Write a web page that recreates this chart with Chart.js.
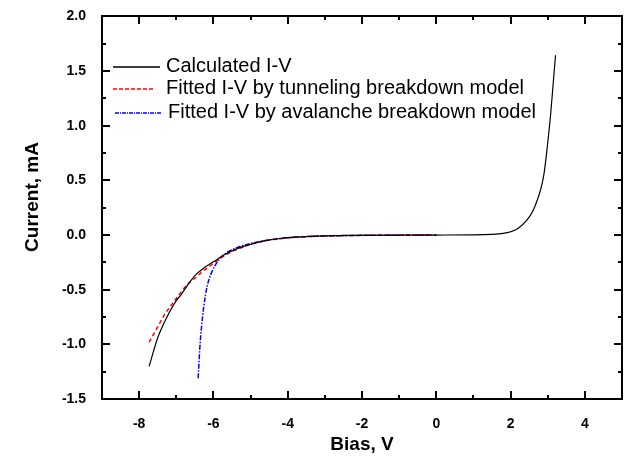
<!DOCTYPE html>
<html>
<head>
<meta charset="utf-8">
<script src="https://cdn.jsdelivr.net/npm/chart.js@4.4.1/dist/chart.umd.min.js"></script>
<style>
  html, body { margin: 0; padding: 0; background: #fff; }
  #wrap { width: 631px; height: 456px; }
</style>
</head>
<body>
<div id="wrap"><canvas id="ivChart"></canvas></div>
<script>
// Calculated I-V (black solid)
const calcBias = [-7.73, -7.5, -7.25, -7.0, -6.88, -6.7, -6.48, -6.25, -6.0, -5.72, -5.33, -5.0, -4.6, -4.2, -3.8, -3.0, -2.0, -1.0, 0, 1.0, 1.5, 1.8, 2.0, 2.2, 2.45, 2.6, 2.72, 2.82, 2.9, 2.99, 3.08, 3.17, 3.21];
const calcCurrent = [-1.20, -0.94, -0.75, -0.60, -0.55, -0.46, -0.365, -0.30, -0.245, -0.183, -0.12, -0.085, -0.052, -0.032, -0.02, -0.008, -0.003, -0.001, 0, 0.001, 0.006, 0.015, 0.03, 0.06, 0.14, 0.22, 0.32, 0.43, 0.56, 0.81, 1.11, 1.48, 1.645];

// Fitted I-V by tunneling breakdown model (red dashed)
const tunBias = [-7.73, -7.5, -7.3, -7.0, -6.75, -6.45, -6.2, -6.0, -5.8, -5.5, -5.2, -5.0, -4.6, -4.2, -3.8, -3.0, -2.0, -1.0, 0];
const tunCurrent = [-0.98, -0.84, -0.72, -0.58, -0.47, -0.38, -0.31, -0.26, -0.21, -0.15, -0.11, -0.085, -0.053, -0.033, -0.02, -0.009, -0.003, -0.001, 0];

// Fitted I-V by avalanche breakdown model (blue dash-dot)
const avBias = [-6.41, -6.37, -6.32, -6.26, -6.17, -6.04, -5.86, -5.72, -5.5, -5.2, -5.0, -4.6, -4.2, -3.8, -3.0, -2.0, -1.0, 0];
const avCurrent = [-1.31, -1.05, -0.84, -0.655, -0.47, -0.335, -0.23, -0.18, -0.135, -0.095, -0.077, -0.05, -0.032, -0.02, -0.009, -0.003, -0.001, 0];

const seriesLabels = ['Calculated I-V', 'Fitted I-V by tunneling breakdown model', 'Fitted I-V by avalanche breakdown model'];
const seriesColors = ['#000000', '#ff0000', '#0000ff'];
const xTickLabels = ['-8', '-6', '-4', '-2', '0', '2', '4'];
const yTickLabels = ['-1.5', '-1.0', '-0.5', '0.0', '0.5', '1.0', '1.5', '2.0'];

const FONT = '"Liberation Sans", Arial, sans-serif';

function isHalf(v) {
    return Math.abs(v * 2 - Math.round(v * 2)) < 1e-6;
}

// frame with inward ticks on all four sides, y title and legend inside the plot
const framePlugin = {
    id: 'frame',
    afterDraw(chart) {
        const c = chart.ctx;
        const a = chart.chartArea;
        const xs = chart.scales.x, ys = chart.scales.y;
        const L = Math.round(a.left), R = Math.round(a.right);
        const T = Math.round(a.top), B = Math.round(a.bottom);
        c.save();
        c.fillStyle = '#000000';
        c.fillRect(L - 1, T - 1, R - L + 2, 2);
        c.fillRect(L - 1, B - 1, R - L + 2, 2);
        c.fillRect(L - 1, T - 1, 2, B - T + 2);
        c.fillRect(R - 1, T - 1, 2, B - T + 2);

        for (let v = xs.min; v <= xs.max + 1e-9; v += 1) {
            const len = (Math.round(v) % 2 === 0) ? 8 : 4;
            const px = Math.round(xs.getPixelForValue(v));
            c.fillRect(px - 1, B - len, 2, len);
            c.fillRect(px - 1, T, 2, len);
        }
        for (let v = ys.min; v <= ys.max + 1e-9; v += 0.25) {
            const len = isHalf(v) ? 8 : 4;
            const py = Math.round(ys.getPixelForValue(v));
            c.fillRect(L, py - 1, len, 2);
            c.fillRect(R - len, py - 1, len, 2);
        }

        // y axis title
        c.save();
        c.translate(33, 197);
        c.rotate(-Math.PI / 2);
        c.font = 'bold 19px ' + FONT;
        c.textAlign = 'center';
        c.textBaseline = 'middle';
        c.fillText('Current, mA', 0, 0);
        c.restore();

        // legend
        const rows = [
            { y: 67, x0: 113, x1: 160, tx: 166, dash: [] },
            { y: 89, x0: 113, x1: 153, tx: 166, dash: [4, 2] },
            { y: 113, x0: 115, x1: 162, tx: 168, dash: [4, 1, 1, 1] }
        ];
        c.font = '20px ' + FONT;
        c.textBaseline = 'middle';
        c.textAlign = 'left';
        rows.forEach((r, i) => {
            c.strokeStyle = seriesColors[i];
            c.lineWidth = 1.3;
            c.setLineDash(r.dash);
            c.beginPath();
            c.moveTo(r.x0, r.y);
            c.lineTo(r.x1, r.y);
            c.stroke();
            c.setLineDash([]);
            c.fillStyle = '#000000';
            c.fillText(seriesLabels[i], r.tx, r.y - 1);
        });
        c.restore();
    }
};

const ctx = document.getElementById('ivChart').getContext('2d');
const ivChart = new Chart(ctx, {
    type: 'line',
    data: {
        datasets: [{
            label: seriesLabels[0],
            data: calcBias.map((x, i) => ({ x: x, y: calcCurrent[i] })),
            borderColor: seriesColors[0],
            borderWidth: 1.2,
            cubicInterpolationMode: 'monotone'
        }, {
            label: seriesLabels[1],
            data: tunBias.map((x, i) => ({ x: x, y: tunCurrent[i] })),
            borderColor: seriesColors[1],
            borderWidth: 1.5,
            borderDash: [4, 3],
            cubicInterpolationMode: 'monotone'
        }, {
            label: seriesLabels[2],
            data: avBias.map((x, i) => ({ x: x, y: avCurrent[i] })),
            borderColor: seriesColors[2],
            borderWidth: 1.5,
            borderDash: [5, 1.5, 1.5, 1.5],
            cubicInterpolationMode: 'monotone'
        }]
    },
    options: {
        responsive: true,
        maintainAspectRatio: false,
        animation: false,
        layout: { padding: { left: 0, top: 16, right: 6, bottom: 0 } },
        elements: { point: { radius: 0 } },
        plugins: { legend: { display: false }, tooltip: { enabled: false } },
        scales: {
            x: {
                type: 'linear',
                min: -9,
                max: 5,
                afterFit: s => { s.height = 57; },
                grid: { display: false },
                border: { display: false },
                ticks: {
                    stepSize: 1,
                    autoSkip: false,
                    maxRotation: 0,
                    padding: 9,
                    color: '#000',
                    font: { family: FONT, size: 14, weight: 'bold' },
                    callback: v => xTickLabels.includes(String(v)) ? String(v) : ''
                },
                title: {
                    display: true,
                    text: 'Bias, V',
                    color: '#000',
                    padding: { top: 0, bottom: 0 },
                    font: { family: FONT, size: 19, weight: 'bold' }
                }
            },
            y: {
                min: -1.5,
                max: 2.0,
                afterFit: s => { s.width = 102; },
                grid: { display: false },
                border: { display: false },
                ticks: {
                    stepSize: 0.25,
                    autoSkip: false,
                    padding: 8,
                    color: '#000',
                    font: { family: FONT, size: 14, weight: 'bold' },
                    callback: v => {
                        const s = Number(v).toFixed(1);
                        return (isHalf(v) && yTickLabels.includes(s)) ? s : '';
                    }
                }
            }
        }
    },
    plugins: [framePlugin]
});
</script>
</body>
</html>
